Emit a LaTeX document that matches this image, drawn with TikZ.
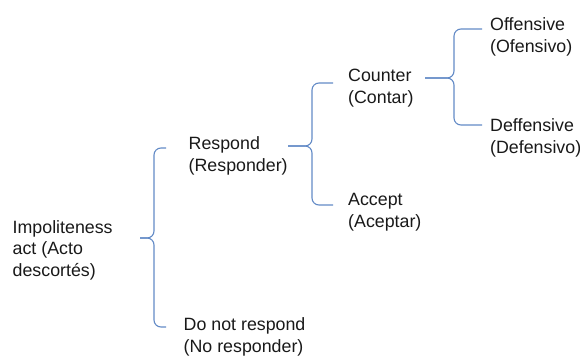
\documentclass[tikz,border=0pt]{standalone}
\usepackage{fontspec}
\setmainfont{Liberation Sans}
\definecolor{bracecol}{RGB}{98,138,198}
\definecolor{txtcol}{RGB}{25,25,25}
\begin{document}
\begin{tikzpicture}[x=1pt,y=-1pt,
  lbl/.style={anchor=base west,inner sep=0pt,align=left,text=txtcol,
    font=\fontsize{17.8pt}{21.4pt}\selectfont},
  brace/.style={draw=bracecol,line width=1.1pt,rounded corners=7pt}]
\useasboundingbox (0,0) rectangle (580,356);
% nodes (anchored at the baseline of their last line)
\node[lbl] (imp) at (12.5,276) {Impoliteness\\act (Acto\\descortés)};
\node[lbl] (resp) at (188.5,171) {Respond\\(Responder)};
\node[lbl] (nores) at (183.5,352) {Do not respond\\(No responder)};
\node[lbl] (count) at (348,103) {Counter\\(Contar)};
\node[lbl] (acc) at (348,227) {Accept\\(Aceptar)};
\node[lbl] (off) at (490,52) {Offensive\\(Ofensivo)};
\node[lbl] (def) at (490,153) {Deffensive\\(Defensivo)};
% brace 1
\coordinate (b1tip) at (140,238);
\coordinate (b1top) at (166,148);
\coordinate (b1bot) at (166,327);
\draw[brace] (b1tip) -- (154,238) -- (154,148) -- (b1top);
\draw[brace] (b1tip) -- (154,238) -- (154,327) -- (b1bot);
% brace 2
\coordinate (b2tip) at (288,146);
\coordinate (b2top) at (333,83);
\coordinate (b2bot) at (333,205);
\draw[brace] (b2tip) -- (312,146) -- (312,83) -- (b2top);
\draw[brace] (b2tip) -- (312,146) -- (312,205) -- (b2bot);
% brace 3
\coordinate (b3tip) at (425,78);
\coordinate (b3top) at (482,29);
\coordinate (b3bot) at (482,125);
\draw[brace] (b3tip) -- (454,78) -- (454,29) -- (b3top);
\draw[brace] (b3tip) -- (454,78) -- (454,125) -- (b3bot);
\end{tikzpicture}
\end{document}
